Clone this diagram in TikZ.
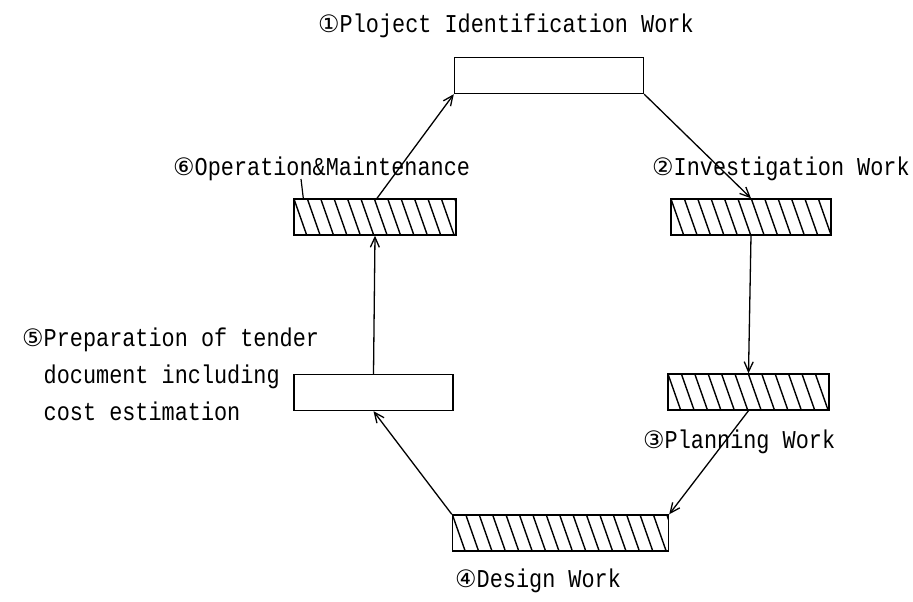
\documentclass[tikz,border=0pt]{standalone}
\usepackage{fontspec}
\newfontfamily\lblfont{Liberation Mono}[FakeStretch=0.85]
\newfontfamily\circfont{DejaVu Sans}
\usepackage{tikz}
\usetikzlibrary{arrows.meta,positioning,calc}
\newcommand{\cnum}[1]{{\circfont\fontsize{24}{24}\selectfont #1}}
\tikzset{
  stage/.style={rectangle, draw, line width=1.4pt, minimum height=36pt, inner sep=0pt},
  hatched/.style={stage, path picture={
      \foreach \i in {-2,...,17}
        \draw[line width=1.4pt] ([xshift=\i*13.4pt]path picture bounding box.north west) -- ++(13pt,-37pt);}},
  flow/.style={-{Straight Barb[length=10pt,width=9pt]}, line width=1.3pt},
  lbl/.style={font=\lblfont\fontsize{25.7}{37}\selectfont, inner sep=0pt, anchor=base west},
}
\begin{document}
\begin{tikzpicture}[x=1pt,y=-1pt]
  \useasboundingbox (0,0) rectangle (913,602);

  % the six stages
  \node[stage, minimum width=189pt] (ident) at (549,75.5) {};
  \node[hatched, minimum width=160pt] (invest) at (751,217) {};
  \node[hatched, minimum width=161pt] (plan) at (748.5,392) {};
  \node[hatched, minimum width=216pt] (design) at (560.5,533) {};
  \node[stage, minimum width=159pt] (tender) at (373.5,392.5) {};
  \node[hatched, minimum width=162pt] (opm) at (375,217) {};

  % labels
  \node[lbl] (identlbl) at (318,33) {\cnum{①}Ploject Identification Work};
  \node[lbl] (investlbl) at (652,175) {\cnum{②}Investigation Work};
  \node[lbl] (planlbl) at (643,448) {\cnum{③}Planning Work};
  \node[lbl] (designlbl) at (455,587) {\cnum{④}Design Work};
  \node[lbl, align=left] (tenderlbl) at (22,420)
    {\cnum{⑤}Preparation of tender\\
     \phantom{\cnum{⑤}}document including\\
     \phantom{\cnum{⑤}}cost estimation};
  \node[lbl] (opmlbl) at (173,175) {\cnum{⑥}Operation\&Maintenance};
  \coordinate (opmtick) at (301,179);

  % cycle
  \draw[flow] (ident.south east) -- (invest.north);
  \draw[flow] (invest.south) -- (plan.north);
  \draw[flow] (plan.south) -- (design.north east);
  \draw[flow] (design.north west) -- (tender.south);
  \draw[flow] (tender.north) -- (opm.south);
  \draw[flow] ([xshift=2pt]opm.north) -- (ident.south west);
  \draw[line width=1.2pt] (opmtick) -- ([xshift=10pt]opm.north west);
\end{tikzpicture}
\end{document}
